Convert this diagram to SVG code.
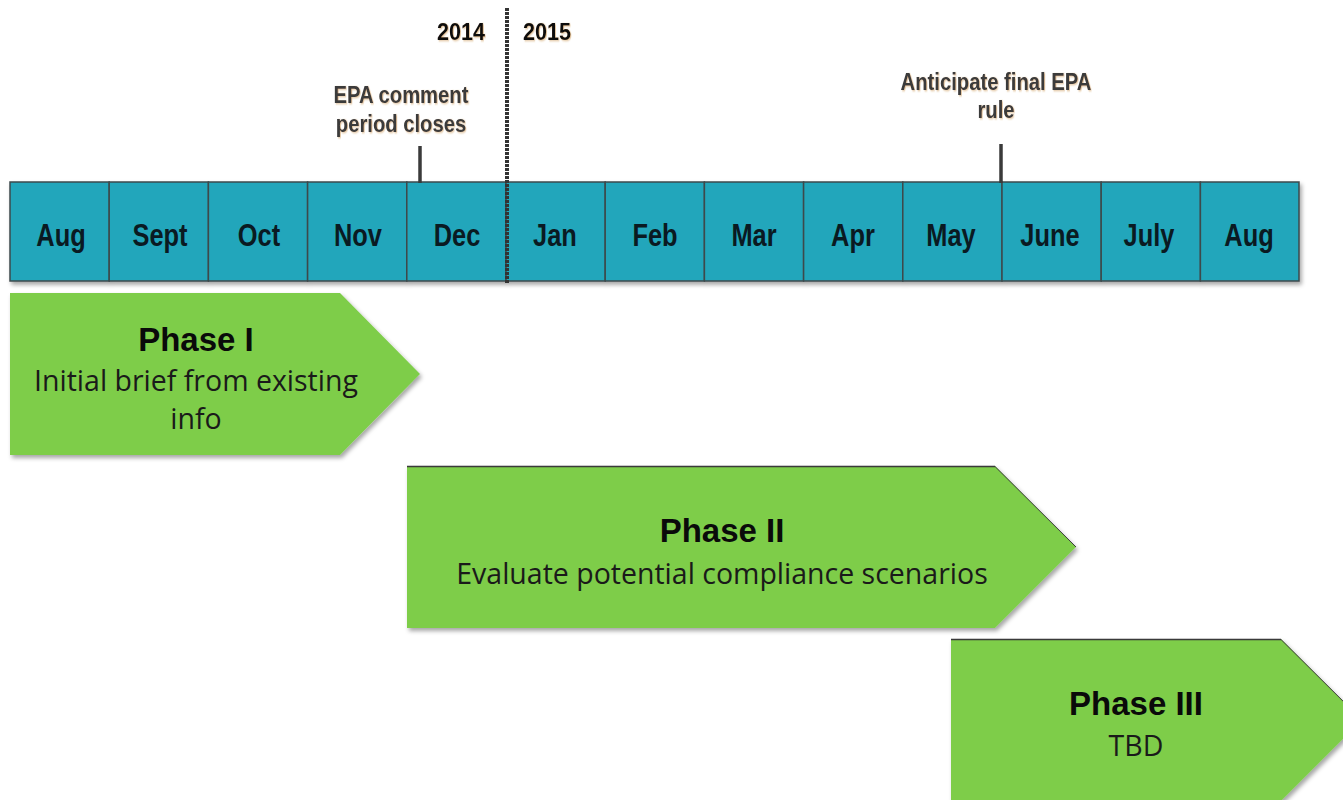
<svg xmlns="http://www.w3.org/2000/svg" width="1343" height="800" viewBox="0 0 1343 800">
<defs>
<filter id="sh" x="-5%" y="-5%" width="115%" height="120%">
<feDropShadow dx="2" dy="3" stdDeviation="2" flood-color="#000" flood-opacity="0.35"/>
</filter>
<filter id="tsh" x="-5%" y="-20%" width="110%" height="140%">
<feDropShadow dx="1" dy="1" stdDeviation="0.8" flood-color="#c08030" flood-opacity="0.5"/>
</filter>
</defs>
<style>
.cell{fill:#23a6bb;stroke:#3d4a4c;stroke-width:1.5}
.mon{font-family:"Liberation Sans",Arial,sans-serif;font-weight:bold;font-size:31px;fill:#0a1a22;text-anchor:middle}
.yr{font-family:"Liberation Sans",Arial,sans-serif;font-weight:bold;font-size:24px;fill:#111;text-anchor:middle}
.note{font-family:"Liberation Sans",Arial,sans-serif;font-weight:bold;font-size:23px;fill:#3a3a3a;text-anchor:middle}
.tick{stroke:#3a3a3a;stroke-width:3.5}
.arrow{fill:#7ecd4a}
.ttl{font-family:"Liberation Sans",Arial,sans-serif;font-weight:bold;font-size:33px;fill:#0a0a0a;text-anchor:middle}
.sub{font-family:"Open Sans","Noto Sans",sans-serif;font-size:28.5px;fill:#1a1a1a;text-anchor:middle}
</style>
<g id="timeline" filter="url(#sh)">
<rect class="cell" x="10" y="182" width="99.2" height="99"/>
<rect class="cell" x="109.2" y="182" width="99.2" height="99"/>
<rect class="cell" x="208.4" y="182" width="99.2" height="99"/>
<rect class="cell" x="307.6" y="182" width="99.2" height="99"/>
<rect class="cell" x="406.8" y="182" width="99.2" height="99"/>
<rect class="cell" x="506" y="182" width="99.2" height="99"/>
<rect class="cell" x="605.2" y="182" width="99.2" height="99"/>
<rect class="cell" x="704.4" y="182" width="99.2" height="99"/>
<rect class="cell" x="803.6" y="182" width="99.2" height="99"/>
<rect class="cell" x="902.8" y="182" width="99.2" height="99"/>
<rect class="cell" x="1002" y="182" width="99.2" height="99"/>
<rect class="cell" x="1101.2" y="182" width="99.2" height="99"/>
<rect class="cell" x="1200.4" y="182" width="98.6" height="99"/>
</g>
<g id="months" transform="scale(0.82 1)">
<text class="mon" x="74.4" y="246">Aug</text>
<text class="mon" x="195.1" y="246">Sept</text>
<text class="mon" x="315.9" y="246">Oct</text>
<text class="mon" x="436.6" y="246">Nov</text>
<text class="mon" x="557.3" y="246">Dec</text>
<text class="mon" x="676.8" y="246">Jan</text>
<text class="mon" x="798.8" y="246">Feb</text>
<text class="mon" x="919.5" y="246">Mar</text>
<text class="mon" x="1040.2" y="246">Apr</text>
<text class="mon" x="1159.8" y="246">May</text>
<text class="mon" x="1280.5" y="246">June</text>
<text class="mon" x="1401.2" y="246">July</text>
<text class="mon" x="1523.2" y="246">Aug</text>
</g>
<g id="connectors">
<line x1="507" y1="8" x2="507" y2="284" stroke="#333" stroke-width="4" stroke-dasharray="3 1"/>
<line class="tick" x1="420" y1="146" x2="420" y2="183"/>
<line class="tick" x1="1001" y1="144" x2="1001" y2="183"/>
</g>
<g id="years" transform="scale(0.9 1)" filter="url(#tsh)">
<text class="yr" x="512.2" y="40">2014</text>
<text class="yr" x="607.8" y="40">2015</text>
</g>
<g id="note-epa-comment" transform="scale(0.88 1)" filter="url(#tsh)">
<text class="note" x="455.7" y="103">EPA comment</text>
<text class="note" x="455.7" y="132">period closes</text>
</g>
<g id="note-final-rule" transform="scale(0.88 1)" filter="url(#tsh)">
<text class="note" x="1131.8" y="90">Anticipate final EPA</text>
<text class="note" x="1131.8" y="118">rule</text>
</g>
<g id="phase1">
<polygon class="arrow" filter="url(#sh)" points="10,293 340,293 420,374 340,455 10,455"/>
<text class="ttl" x="196" y="351">Phase I</text>
<text class="sub" x="196" y="391">Initial brief from existing</text>
<text class="sub" x="196" y="429">info</text>
</g>
<g id="phase2">
<polygon class="arrow" filter="url(#sh)" points="407,466 995,466 1076,547 995,628 407,628"/>
<line x1="407" y1="466.5" x2="995" y2="466.5" stroke="#3a3a3a" stroke-width="1.5"/>
<line x1="995" y1="466.5" x2="1076" y2="547" stroke="#3a3a3a" stroke-width="1"/>
<text class="ttl" x="722" y="542">Phase II</text>
<text class="sub" x="722" y="584">Evaluate potential compliance scenarios</text>
</g>
<g id="phase3">
<polygon class="arrow" filter="url(#sh)" points="951,639 1281,639 1362,720 1281,801 951,801"/>
<line x1="951" y1="639.5" x2="1281" y2="639.5" stroke="#3a3a3a" stroke-width="1.5"/>
<line x1="1281" y1="639.5" x2="1362" y2="720" stroke="#3a3a3a" stroke-width="1"/>
<text class="ttl" x="1136" y="715">Phase III</text>
<text class="sub" x="1136" y="756">TBD</text>
</g>
</svg>
